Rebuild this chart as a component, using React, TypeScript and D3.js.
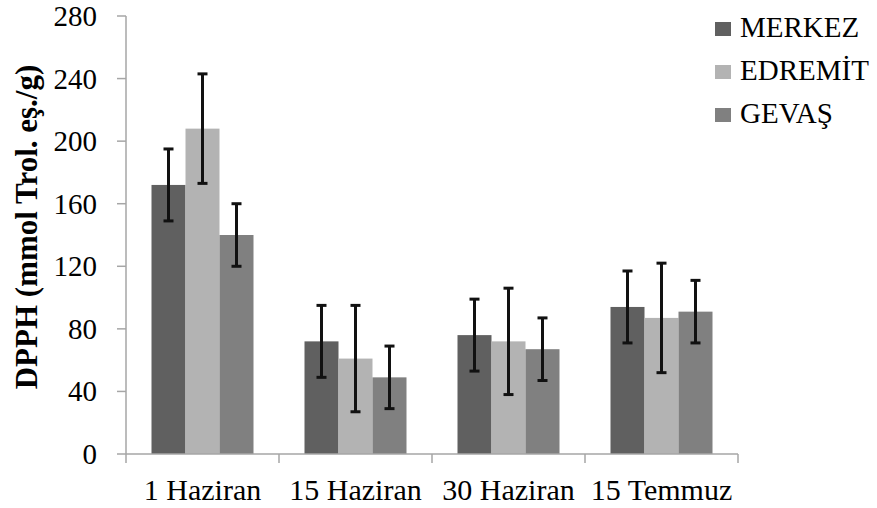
import React, { useEffect, useRef } from "react";
import * as d3 from "d3";

const categories = ["1 Haziran", "15 Haziran", "30 Haziran", "15 Temmuz"];
const seriesNames = ["MERKEZ", "EDREMİT", "GEVAŞ"];
const merkezValues = [172, 72, 76, 94];
const merkezErrors = [23, 23, 23, 23];
const edremitValues = [208, 61, 72, 87];
const edremitErrors = [35, 34, 34, 35];
const gevasValues = [140, 49, 67, 91];
const gevasErrors = [20, 20, 20, 20];
const yTicks = [0, 40, 80, 120, 160, 200, 240, 280];
const colors = ["#606060", "#b3b3b3", "#808080"];

const W = 877;
const H = 508;
const FONT = '"Liberation Serif", "Times New Roman", Tinos, monospace';

export default function App() {
  const ref = useRef<SVGSVGElement>(null);
  const values = [merkezValues, edremitValues, gevasValues];
  const errors = [merkezErrors, edremitErrors, gevasErrors];
  const x = d3.scaleBand<string>().domain(categories).range([126, 738]).padding(0);
  const bw = x.bandwidth();
  const xi = d3.scaleBand<string>().domain(seriesNames).range([bw / 6, (bw * 5) / 6]).padding(0);
  const y = d3.scaleLinear().domain([0, 280]).range([454, 16]);
  const axisColor = "#a6a6a6";
  const capW = 10;

  useEffect(() => {
    if (!ref.current) return;
    d3.select(ref.current)
      .selectAll<SVGTextElement, unknown>("text")
      .each(function () {
        this.style.setProperty("font-family", FONT, "important");
      });
  }, []);

  return (
    <svg ref={ref} width={W} height={H} style={{ position: "absolute", left: 0, top: 0, background: "#fff" }}>
      <line x1={126} x2={126} y1={y(280)} y2={y(0)} stroke={axisColor} strokeWidth={1.5} />
      {yTicks.map((t) => (
        <g key={t}>
          <line x1={117} x2={126} y1={y(t)} y2={y(t)} stroke={axisColor} strokeWidth={1.5} />
          <text x={97} y={y(t) + 10} textAnchor="end" fontSize={29} fontFamily={FONT} fill="#000">
            {String(t)}
          </text>
        </g>
      ))}
      {categories.map((c, ci) =>
        seriesNames.map((s, si) => {
          const v = values[si][ci];
          const bx = (x(c) as number) + (xi(s) as number);
          return (
            <rect key={c + s} x={bx} y={y(v)} width={xi.bandwidth()} height={y(0) - y(v)} fill={colors[si]} />
          );
        })
      )}
      {categories.map((c, ci) =>
        seriesNames.map((s, si) => {
          const v = values[si][ci];
          const e = errors[si][ci];
          const cx = (x(c) as number) + (xi(s) as number) + xi.bandwidth() / 2;
          return (
            <g key={"e" + c + s} stroke="#111" strokeWidth={3}>
              <line x1={cx} x2={cx} y1={y(v + e)} y2={y(v - e)} />
              <line x1={cx - capW / 2} x2={cx + capW / 2} y1={y(v + e)} y2={y(v + e)} />
              <line x1={cx - capW / 2} x2={cx + capW / 2} y1={y(v - e)} y2={y(v - e)} />
            </g>
          );
        })
      )}
      <line x1={126} x2={738} y1={y(0)} y2={y(0)} stroke={axisColor} strokeWidth={1.5} />
      {[...categories.map((c) => x(c) as number), 738].map((px, i) => (
        <line key={"xt" + i} x1={px} x2={px} y1={y(0)} y2={y(0) + 9} stroke={axisColor} strokeWidth={1.5} />
      ))}
      {categories.map((c) => (
        <text key={"xl" + c} x={(x(c) as number) + bw / 2} y={500} textAnchor="middle" fontSize={30} fontFamily={FONT} fill="#000">
          {c}
        </text>
      ))}
      <text transform="translate(37,227) rotate(-90)" textAnchor="middle" fontSize={31} fontWeight="bold" fontFamily={FONT} fill="#000">
        DPPH (mmol Trol. eş./g)
      </text>
      {seriesNames.map((s, si) => (
        <g key={"lg" + s}>
          <rect x={715} y={22 + si * 43} width={16} height={14} fill={colors[si]} />
          <text x={740} y={37 + si * 43} fontSize={29} fontFamily={FONT} fill="#000">
            {s}
          </text>
        </g>
      ))}
    </svg>
  );
}
